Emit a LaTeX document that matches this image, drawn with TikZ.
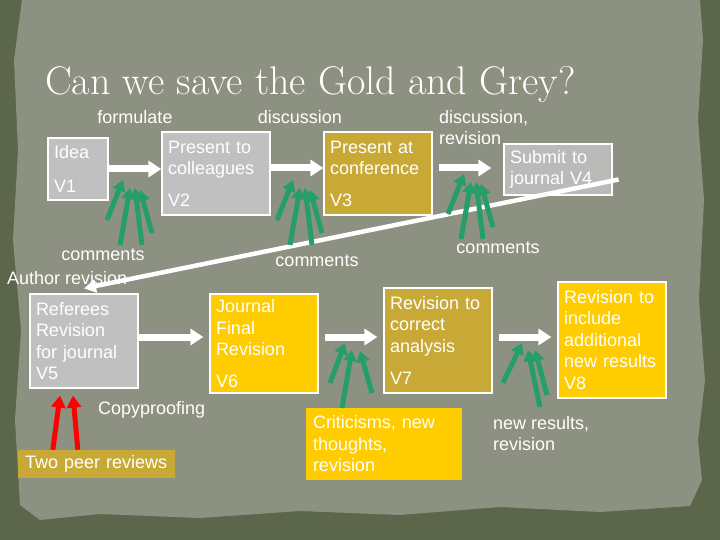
\documentclass[tikz,border=0pt]{standalone}
\usepackage{fontspec}
\newfontfamily\arialfont{Liberation Sans}
\usetikzlibrary{arrows.meta}
\definecolor{paper}{RGB}{140,145,129}
\definecolor{rim}{RGB}{92,102,74}
\definecolor{greyfill}{RGB}{192,192,192}
\definecolor{darkgold}{RGB}{201,169,54}
\definecolor{gold}{RGB}{255,204,0}
\definecolor{fangreen}{RGB}{38,158,106}

\begin{document}
\begin{tikzpicture}[x=1pt, y=-1pt,
    every node/.style={font=\arialfont\fontsize{18}{21.5}\selectfont, text=white},
    card/.style={inner xsep=6pt, inner ysep=0pt, align=left, text width=96pt},
    greycard/.style={card, fill=greyfill, draw=white, line width=1.2pt},
    goldcard/.style={card, fill=darkgold, draw=white, line width=1.2pt},
    yellowcard/.style={card, fill=gold, draw=white, line width=1.2pt},
    lbl/.style={inner sep=0pt},
    flow/.style={white, line width=7pt, -{Triangle[length=13pt,width=16pt]}},
    fan/.style={fangreen, line width=5pt, -{Triangle[length=11pt,width=13pt]}},
    peer/.style={red, line width=5pt, -{Triangle[length=12pt,width=14pt]}}
  ]
    \useasboundingbox (0,0) rectangle (720,540);
    % torn paper background
    \fill[rim] (0,0) rectangle (720,540);
    \fill[paper] (22,0) -- (700,0) -- (703,40) -- (698,120) -- (704,200) -- (699,300) -- (705,380)
      -- (698,440) -- (702,480) -- (690,506) -- (600,512) -- (500,507) -- (400,515) -- (300,511)
      -- (200,518) -- (100,514) -- (40,520) -- (20,505) -- (15,420) -- (21,330) -- (13,240)
      -- (18,150) -- (14,60) -- cycle;

    \node[anchor=base west, lbl, font=\rmfamily\fontsize{40}{44}\selectfont] (title) at (45,95) {Can we save the Gold and Grey?};

    % first row
    \node[greycard, text width=48pt, minimum height=62pt] (v1) at (78,169) {Idea\\[12pt]V1};
    \node[greycard, minimum height=83pt] (v2) at (216,173.5) {Present to\\colleagues\\[10pt]V2};
    \node[goldcard, minimum height=83pt] (v3) at (378,173.5) {Present at\\conference\\[10pt]V3};
    \node[greycard, minimum height=51pt, fill opacity=0.9, text opacity=1] (v4) at (558,169.5) {Submit to\\journal V4};

    \node[lbl] (formulate) at (135,117) {formulate};
    \node[lbl] (disc) at (300,117) {discussion};
    \node[lbl, anchor=west, align=left] (discrev) at (439,127.5) {discussion,\\revision};

    % second row
    \node[greycard, minimum height=94pt] (v5) at (84,341) {Referees\\Revision\\for journal\\V5};
    \node[yellowcard, minimum height=99pt] (v6) at (264,343.5) {Journal\\Final\\Revision\\[10pt]V6};
    \node[goldcard, minimum height=105pt] (v7) at (438,340.5) {Revision to\\correct\\analysis\\[11pt]V7};
    \node[yellowcard, minimum height=116pt] (v8) at (612,340) {Revision to\\include\\additional\\new results\\V8};

    \node[lbl] (com1) at (103,255) {comments};
    \node[lbl, anchor=west] (authrev) at (7,278) {Author revision};
    \node[lbl] (com2) at (317,261) {comments};
    \node[lbl] (com3) at (498,248) {comments};

    % bottom row
    \node[card, fill=darkgold, inner xsep=7pt, text width=143pt, minimum height=28pt] (peers) at (96.5,464) {Two peer reviews};
    \node[card, fill=gold, inner xsep=7pt, text width=142pt, minimum height=72pt] (crit) at (384,444) {Criticisms, new\\thoughts,\\revision};
    \node[lbl, anchor=west] (copy) at (98,410) {Copyproofing};
    \node[lbl, anchor=west, align=left] (newres) at (493,433.5) {new results,\\revision};

    % flow arrows
    \draw[flow] (v1.east) -- (v2.west |- v1.east);
    \draw[flow] ([yshift=5.5pt]v2.east) -- ([yshift=5.5pt]v3.west);
    \draw[flow] ([xshift=6pt,yshift=5.5pt]v3.east) -- ([xshift=-12pt,yshift=1.5pt]v4.west);
    \draw[flow] ([yshift=4pt]v5.east) -- ([xshift=-6pt,yshift=6.5pt]v6.west);
    \draw[flow] ([xshift=6pt,yshift=6.5pt]v6.east) -- ([xshift=-6pt,yshift=3.5pt]v7.west);
    \draw[flow] ([xshift=6pt,yshift=3.5pt]v7.east) -- ([xshift=-6pt,yshift=3pt]v8.west);

    % back to the author
    \coordinate (diag) at ([xshift=6pt,yshift=-10pt]v4.east);
    \coordinate (back) at ([yshift=5pt]v5.north);
    \draw[white, line width=4.5pt, -{Triangle[length=12pt,width=13pt]}] (diag) -- (back);

    % comment arrows
    \foreach \ax/\ay/\bx/\by in {107/220/123/180, 120/245/130/188, 142/245/135/188, 152/233/140/190,
        277/220/293/180, 290/245/300/188, 312/245/305/188, 322/233/310/190,
        448/214/464/174, 461/239/471/182, 483/239/476/182, 493/227/481/184,
        330/383/345/343, 342/408/352/350, 372/393/360/351,
        503/383/522/343, 540/407/528/350, 547/395/535/350}
      \draw[fan] (\ax,\ay) -- (\bx,\by);

    % reviews
    \draw[peer] ([xshift=35pt]peers.north west) -- ([xshift=-24pt,yshift=-7pt]v5.south);
    \draw[peer] ([xshift=60pt]peers.north west) -- ([xshift=-11pt,yshift=-7pt]v5.south);
\end{tikzpicture}
\end{document}
